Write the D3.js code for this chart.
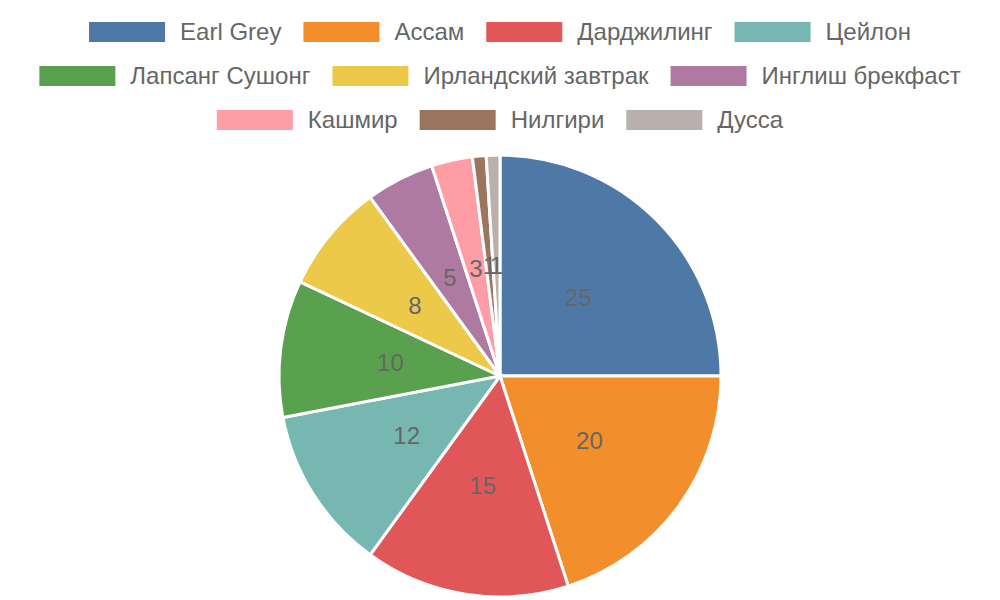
<!DOCTYPE html>
<html>
<head>
<meta charset="utf-8">
<script src="https://cdn.jsdelivr.net/npm/d3@7"></script>
<style>
  body { margin: 0; background: #fff; }
  text { font-family: "Liberation Sans", Arial, sans-serif; }
</style>
</head>
<body>
<svg id="chart"></svg>
<script>
// tea varieties and their shares
const categories = ["Earl Grey", "Ассам", "Дарджилинг", "Цейлон", "Лапсанг Сушонг",
  "Ирландский завтрак", "Инглиш брекфаст", "Кашмир", "Нилгири", "Дусса"];
const values = [25, 20, 15, 12, 10, 8, 5, 3, 1, 1];
const colors = ["#4e79a7", "#f28e2c", "#e15759", "#76b7b2", "#59a14f",
  "#edc949", "#af7aa1", "#ff9da7", "#9c755f", "#bab0ab"];

const width = 1000, height = 600;
const svg = d3.select("#chart").attr("width", width).attr("height", height);

const color = d3.scaleOrdinal().domain(categories).range(colors);

// legend, wrapped and centred per row
const boxW = 76, boxH = 20, boxGap = 15, itemGap = 22, maxRow = 960;
const legend = svg.append("g").attr("class", "legend");
const items = legend.selectAll("g")
  .data(categories)
  .enter()
  .append("g");

items.append("rect")
  .attr("width", boxW)
  .attr("height", boxH)
  .attr("fill", d => color(d));

items.append("text")
  .attr("x", boxW + boxGap)
  .attr("y", boxH / 2)
  .attr("dy", "0.35em")
  .attr("font-size", 24)
  .attr("fill", "#666")
  .text(d => d);

const widths = [];
items.each(function () {
  widths.push(boxW + boxGap + this.querySelector("text").getComputedTextLength());
});

const rows = [];
let cur = [];
let curW = 0;
widths.forEach((w, i) => {
  const add = cur.length ? itemGap + w : w;
  if (cur.length && curW + add > maxRow) {
    rows.push({ idx: cur, w: curW });
    cur = [i];
    curW = w;
  } else {
    cur.push(i);
    curW += add;
  }
});
rows.push({ idx: cur, w: curW });

rows.forEach((row, r) => {
  let x = (width - row.w) / 2;
  row.idx.forEach(i => {
    d3.select(items.nodes()[i]).attr("transform", `translate(${x},${22 + r * 44})`);
    x += widths[i] + itemGap;
  });
});

// pie
const cx = 500, cy = 376, radius = 221;
const pie = d3.pie().sort(null).value(d => d.value);
const arcs = pie(categories.map((c, i) => ({ name: c, value: values[i] })));
const arc = d3.arc().innerRadius(0).outerRadius(radius);
const labelArc = d3.arc().innerRadius(radius / 2).outerRadius(radius / 2);

const g = svg.append("g").attr("transform", `translate(${cx},${cy})`);

g.selectAll("path")
  .data(arcs)
  .enter()
  .append("path")
  .attr("d", arc)
  .attr("fill", d => color(d.data.name))
  .attr("stroke", "#fff")
  .attr("stroke-width", 3);

g.selectAll("text.value")
  .data(arcs)
  .enter()
  .append("text")
  .attr("class", "value")
  .attr("transform", d => `translate(${labelArc.centroid(d)})`)
  .attr("text-anchor", "middle")
  .attr("dy", "0.35em")
  .attr("font-size", 24)
  .attr("fill", "#666")
  .text(d => d.data.value);
</script>
</body>
</html>
